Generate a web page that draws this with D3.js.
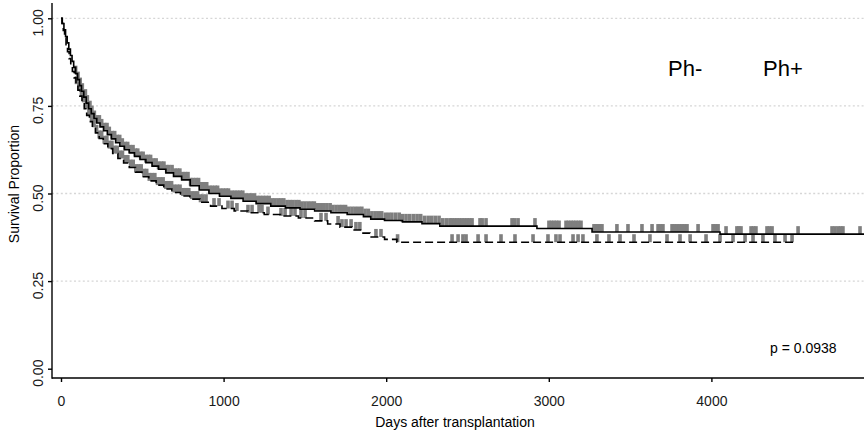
<!DOCTYPE html>
<html>
<head>
<meta charset="utf-8">
<script src="https://cdn.jsdelivr.net/npm/d3@7/dist/d3.min.js"></script>
<style>
  html, body { margin: 0; padding: 0; background: #fff; }
  svg { display: block; font-family: "Liberation Sans", Arial, sans-serif; }
</style>
</head>
<body>
<svg id="chart" width="864" height="437"></svg>
<script>
// Kaplan–Meier estimates: step times (days) and survival after each step
const phNegTimes = [0, 8, 18, 28, 38, 48, 58, 68, 78, 90, 102, 114, 126, 140, 155, 170, 186, 203, 220, 240,
  262, 285, 310, 336, 362, 390, 420, 452, 486, 522, 560, 600, 645, 692, 742, 795, 850, 910, 975, 1045,
  1120, 1200, 1290, 1380, 1470, 1560, 1660, 1760, 1860, 1905, 1990, 2100, 2220, 2330, 2927, 3266, 4053];
const phNegSurv = [1, 0.985, 0.967, 0.948, 0.930, 0.912, 0.894, 0.877, 0.860, 0.842, 0.825, 0.808, 0.792, 0.775, 0.758, 0.742, 0.728, 0.714, 0.701, 0.690,
  0.679, 0.668, 0.656, 0.645, 0.635, 0.625, 0.616, 0.606, 0.597, 0.588, 0.578, 0.569, 0.559, 0.549, 0.539, 0.522, 0.510, 0.500, 0.492, 0.486,
  0.478, 0.471, 0.464, 0.459, 0.455, 0.450, 0.445, 0.440, 0.434, 0.427, 0.423, 0.419, 0.414, 0.407, 0.400, 0.390, 0.384];

const phPosTimes = [0, 6, 14, 22, 31, 40, 50, 60, 70, 81, 92, 104, 116, 129, 143, 158, 175, 193, 212, 235,
  260, 288, 318, 350, 385, 420, 458, 498, 540, 585, 632, 682, 735, 792, 855, 920, 990, 1065, 1150, 1250,
  1350, 1460, 1560, 1640, 1716, 1790, 1851, 1900, 1990, 2066];
const phPosSurv = [1, 0.985, 0.965, 0.945, 0.925, 0.905, 0.885, 0.866, 0.848, 0.830, 0.812, 0.795, 0.778, 0.760, 0.742, 0.723, 0.705, 0.689, 0.673, 0.657,
  0.642, 0.628, 0.614, 0.600, 0.587, 0.574, 0.561, 0.548, 0.536, 0.524, 0.513, 0.503, 0.493, 0.484, 0.475, 0.464, 0.457, 0.450, 0.445, 0.440,
  0.436, 0.430, 0.422, 0.413, 0.404, 0.396, 0.387, 0.376, 0.369, 0.361];

// last follow-up (days) of each group
const lastFollowUp = [5000, 4502];

// censored observations (days)
const phNegCensor = [90, 105, 118, 131, 150, 162, 178, 190, 205, 221, 236, 250, 268, 283, 297, 315, 330, 346, 361, 377,
  394, 410, 425, 443, 458, 472, 490, 505, 522, 538, 551, 569, 585, 600, 618, 633, 650, 664, 683, 700, 716, 731, 748,
  765, 781, 797, 812, 830, 846, 862, 880, 896, 915, 930, 948, 963, 981, 998, 1015, 1030, 1050, 1068, 1085, 1102, 1118,
  1136, 1155, 1172, 1190, 1208, 1226, 1244, 1262, 1280, 1298, 1316, 1335, 1352, 1370, 1390, 1408, 1425, 1445, 1463,
  1480, 1500, 1520, 1540, 1558, 1578, 1596, 1615, 1635, 1655, 1672, 1692, 1712, 1730, 1750, 1770, 1790, 1810, 1830,
  1850, 1870, 1890, 1912, 1932, 1952, 1972, 1995, 2015, 2035, 2058, 2080, 2100, 2122, 2145, 2168, 2190, 2212, 2235,
  2258, 2280, 2302, 2325, 2348, 2370, 2392, 2405, 2420, 2435, 2450, 2466, 2481, 2497, 2512, 2528, 2577, 2590, 2614,
  2774, 2790, 2811, 2915, 3001, 3016, 3032, 3047, 3063, 3106, 3121, 3137, 3152, 3167, 3183, 3198, 3278, 3290, 3303,
  3315, 3327, 3419, 3487, 3573, 3635, 3672, 3686, 3702, 3758, 3773, 3788, 3803, 3819, 3834, 3850, 3918,
  4010, 4025, 4041, 4090, 4157, 4169, 4182, 4244, 4259, 4274, 4342, 4357, 4373, 4533, 4742, 4760, 4779, 4795, 4809, 4914];
const phPosCensor = [95, 110, 126, 140, 157, 172, 188, 203, 219, 235, 250, 266, 282, 298, 313, 330, 346, 362, 378, 395,
  411, 428, 444, 460, 477, 493, 510, 527, 543, 560, 577, 594, 610, 628, 645, 662, 680, 697, 715, 732, 750, 768, 786,
  804, 822, 840, 858, 873, 892, 941, 972, 1027, 1052, 1082, 1150, 1175, 1218, 1236, 1273, 1353, 1378, 1415, 1439,
  1476, 1501, 1599, 1630, 1704, 1728, 1753, 1784, 1814, 1838, 1937, 1968, 2070, 2405, 2442, 2472, 2491, 2565, 2614,
  2706, 2792, 2903, 2995, 3044, 3069, 3149, 3180, 3210, 3296, 3370, 3438, 3524, 3622, 3727, 3807, 3869, 3967, 4053,
  4133, 4207, 4256, 4317, 4391, 4453, 4496];

const groups = ["Ph-", "Ph+"];
const xTicks = [0, 1000, 2000, 3000, 4000];
const yTicks = [0, 0.25, 0.5, 0.75, 1];
const pValueText = "p = 0.0938";

const svg = d3.select("#chart");
const panel = { left: 52, right: 864, top: 3, bottom: 378 };

const x = d3.scaleLinear().domain([0, 4000]).range([61, 711.4]);
const y = d3.scaleLinear().domain([0, 1]).range([368.7, 18.3]);

// dotted horizontal grid
svg.append("g")
  .selectAll("line")
  .data(yTicks.filter(v => v > 0))
  .join("line")
  .attr("x1", panel.left).attr("x2", panel.right)
  .attr("y1", d => y(d)).attr("y2", d => y(d))
  .attr("stroke", "#d6d6d6")
  .attr("stroke-width", 1.3)
  .attr("stroke-dasharray", "2,2.4");

svg.append("defs").append("clipPath").attr("id", "panel-clip")
  .append("rect")
  .attr("x", panel.left).attr("y", 0)
  .attr("width", panel.right - panel.left).attr("height", panel.bottom);

const plot = svg.append("g").attr("clip-path", "url(#panel-clip)");

function buildSeries(times, surv, end) {
  const pts = times.map((t, i) => ({ t, s: surv[i] }));
  pts.push({ t: end, s: surv[surv.length - 1] });
  return pts;
}

function survAt(times, surv, t) {
  const i = d3.bisectRight(times, t) - 1;
  return surv[Math.max(0, i)];
}

const series = [
  { name: groups[0], pts: buildSeries(phNegTimes, phNegSurv, lastFollowUp[0]), times: phNegTimes, surv: phNegSurv, censor: phNegCensor, dash: null },
  { name: groups[1], pts: buildSeries(phPosTimes, phPosSurv, lastFollowUp[1]), times: phPosTimes, surv: phPosSurv, censor: phPosCensor, dash: "8,4" }
];

const line = d3.line()
  .x(d => x(d.t))
  .y(d => y(d.s))
  .curve(d3.curveStepAfter);

series.forEach(sr => {
  // censoring ticks
  plot.append("g")
    .selectAll("rect")
    .data(sr.censor)
    .join("rect")
    .attr("x", d => x(d) - 1.8)
    .attr("y", d => y(survAt(sr.times, sr.surv, d)) - 8)
    .attr("width", 3.6)
    .attr("height", 8)
    .attr("fill", "#7f7f7f");
});

series.forEach(sr => {
  plot.append("path")
    .datum(sr.pts)
    .attr("d", line)
    .attr("fill", "none")
    .attr("stroke", "#000")
    .attr("stroke-width", 1.6)
    .attr("stroke-dasharray", sr.dash);
});

// axes
const xAxis = d3.axisBottom(x).tickValues(xTicks).tickSize(4).tickPadding(14).tickFormat(d3.format("d"));
const gx = svg.append("g").attr("transform", `translate(0,${panel.bottom})`).call(xAxis);
gx.select(".domain").remove();
gx.selectAll(".tick line").attr("stroke", "#000").attr("stroke-width", 1.4);
gx.selectAll("text").attr("font-size", 14).attr("fill", "#1a1a1a").attr("font-family", "Liberation Sans, Arial, sans-serif");

const yAxis = d3.axisLeft(y).tickValues(yTicks).tickSize(4).tickFormat(d3.format(".2f"));
const gy = svg.append("g").attr("transform", `translate(${panel.left},0)`).call(yAxis);
gy.select(".domain").remove();
gy.selectAll(".tick line").attr("stroke", "#000").attr("stroke-width", 1.4);
gy.selectAll("text")
  .attr("x", null).attr("dy", null)
  .attr("text-anchor", "middle")
  .attr("transform", "translate(-9,4) rotate(-90)")
  .attr("font-size", 14).attr("fill", "#1a1a1a")
  .attr("font-family", "Liberation Sans, Arial, sans-serif");

// axis lines
svg.append("line")
  .attr("x1", panel.left).attr("x2", panel.right)
  .attr("y1", panel.bottom).attr("y2", panel.bottom)
  .attr("stroke", "#000").attr("stroke-width", 1.4);
svg.append("line")
  .attr("x1", panel.left).attr("x2", panel.left)
  .attr("y1", panel.top).attr("y2", panel.bottom + 0.7)
  .attr("stroke", "#000").attr("stroke-width", 1.4);

// axis titles
svg.append("text")
  .attr("x", 455).attr("y", 427)
  .attr("text-anchor", "middle")
  .attr("font-size", 14).attr("fill", "#000")
  .text("Days after transplantation");
svg.append("text")
  .attr("transform", "translate(19,184) rotate(-90)")
  .attr("text-anchor", "middle")
  .attr("font-size", 14).attr("fill", "#000")
  .text("Survival Proportion");

// legend labels
const legendX = [668, 763];
svg.append("g")
  .selectAll("text")
  .data(groups)
  .join("text")
  .attr("x", (d, i) => legendX[i])
  .attr("y", 76)
  .attr("font-size", 22)
  .attr("fill", "#000")
  .text(d => d);

// log-rank p-value
svg.append("text")
  .attr("x", 770).attr("y", 353)
  .attr("font-size", 14).attr("fill", "#000")
  .text(pValueText);
</script>
</body>
</html>
